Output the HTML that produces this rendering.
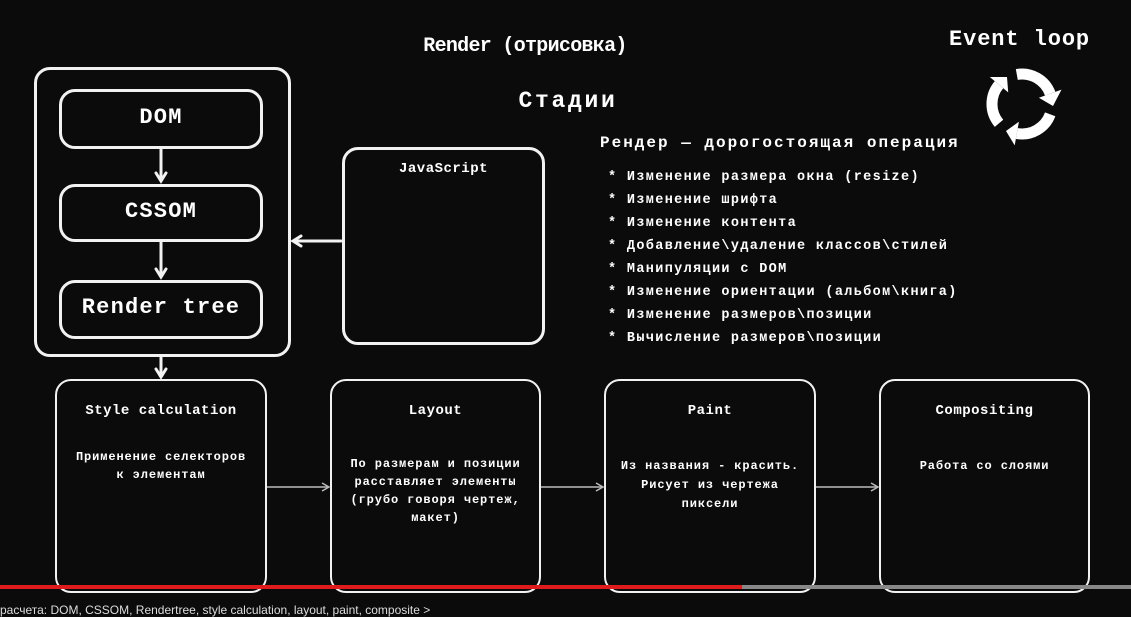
<!DOCTYPE html>
<html><head><meta charset="utf-8"><style>
body{margin:0;width:1131px;height:612px;background:#0b0b0b;overflow:hidden;position:relative;font-family:"Liberation Mono","DejaVu Sans Mono",monospace;color:#fff}
.b{position:absolute;border:2px solid #f2f2f2;border-radius:16px;box-sizing:border-box}
.t{position:absolute;white-space:nowrap;font-weight:bold}
.s{font-size:12px;letter-spacing:0.9px;line-height:18px;text-align:center}
.h{font-size:14px;letter-spacing:0.5px;text-align:center}
</style></head><body>
<div class="b" style="left:34px;top:67px;width:257px;height:290px;border-width:3px"></div>
<div class="b" style="left:59px;top:89px;width:204px;height:60px;border-width:3px"></div>
<div class="b" style="left:59px;top:184px;width:204px;height:58px;border-width:3px"></div>
<div class="b" style="left:59px;top:280px;width:204px;height:59px;border-width:3px"></div>
<div class="t" style="left:59px;width:204px;top:105px;font-size:22px;letter-spacing:1.2px;text-align:center">DOM</div>
<div class="t" style="left:59px;width:204px;top:199px;font-size:22px;letter-spacing:1.2px;text-align:center">CSSOM</div>
<div class="t" style="left:59px;width:204px;top:295px;font-size:22px;letter-spacing:1.2px;text-align:center">Render tree</div>
<div class="b" style="left:342px;top:147px;width:203px;height:198px;border-width:3px"></div>
<div class="t h" style="left:342px;width:203px;top:161px">JavaScript</div>
<div class="t" style="left:380px;width:290px;top:35px;font-size:20px;letter-spacing:-0.7px;text-align:center">Render (отрисовка)</div>
<div class="t" style="left:468px;width:200px;top:88px;font-size:23px;letter-spacing:2.7px;text-align:center">Стадии</div>
<div class="t" style="left:949px;top:27px;font-size:22px;letter-spacing:0.9px">Event loop</div>
<div class="t" style="left:600px;top:134px;font-size:16px;letter-spacing:2px">Рендер — дорогостоящая операция</div>
<div class="t" style="left:608px;top:166px;font-size:13.5px;letter-spacing:1.35px;line-height:23px">* Изменение размера окна (resize)<br>* Изменение шрифта<br>* Изменение контента<br>* Добавление\удаление классов\стилей<br>* Манипуляции с DOM<br>* Изменение ориентации (альбом\книга)<br>* Изменение размеров\позиции<br>* Вычисление размеров\позиции</div>
<div class="b" style="left:55px;top:379px;width:212px;height:214px"></div>
<div class="b" style="left:330px;top:379px;width:211px;height:214px"></div>
<div class="b" style="left:604px;top:379px;width:212px;height:214px"></div>
<div class="b" style="left:879px;top:379px;width:211px;height:214px"></div>
<div class="t h" style="left:55px;width:212px;top:403px">Style calculation</div>
<div class="t s" style="left:55px;width:212px;top:448px">Применение селекторов<br>к элементам</div>
<div class="t h" style="left:330px;width:211px;top:403px">Layout</div>
<div class="t s" style="left:330px;width:211px;top:455px">По размерам и позиции<br>расставляет элементы<br>(грубо говоря чертеж,<br>макет)</div>
<div class="t h" style="left:604px;width:212px;top:403px">Paint</div>
<div class="t s" style="left:604px;width:212px;top:457px;line-height:19px">Из названия - красить.<br>Рисует из чертежа<br>пиксели</div>
<div class="t h" style="left:879px;width:211px;top:403px">Compositing</div>
<div class="t s" style="left:879px;width:211px;top:457px">Работа со слоями</div>
<svg style="position:absolute;left:0;top:0" width="1131" height="612">
<g stroke="#f2f2f2" stroke-width="3" fill="none" stroke-linecap="round">
<line x1="161" y1="149" x2="161" y2="180"/><polyline points="156,173 161,181 166,173"/>
<line x1="161" y1="242" x2="161" y2="276"/><polyline points="156,269 161,277 166,269"/>
<line x1="161" y1="357" x2="161" y2="376"/><polyline points="156,369 161,377 166,369"/>
<line x1="341" y1="241" x2="294" y2="241"/><polyline points="301,236 293,241 301,246"/>
</g>
<g stroke="#bbb" stroke-width="1.5" fill="none">
<line x1="267" y1="487" x2="328" y2="487"/><polyline points="322,483 329,487 322,491"/>
<line x1="541" y1="487" x2="602" y2="487"/><polyline points="596,483 603,487 596,491"/>
<line x1="816" y1="487" x2="877" y2="487"/><polyline points="871,483 878,487 871,491"/>
</g>
<g transform="translate(1022,104)">
<g fill="none" stroke="#fff" stroke-width="11">
<path d="M-5.2,-29.5 A30,30 0 0 1 28.2,-10.3"/>
<path d="M28.2,10.3 A30,30 0 0 1 -5.2,29.5"/>
<path d="M-23,19.3 A30,30 0 0 1 -23,-19.3"/>
</g>
<g fill="#fff">
<polygon points="16.9,-6.2 39.5,-14.4 31,2"/>
<polygon points="-3.1,17.7 -7.3,41.4 -16,27"/>
<polygon points="-13.8,-11.6 -32.2,-27 -15,-27"/>
</g>
</g>
<rect x="0" y="585" width="742" height="4" fill="#e01b1b"/>
<rect x="742" y="585" width="389" height="4" fill="#888"/>
</svg>
<div style="position:absolute;left:0;top:603px;font-family:'Liberation Sans',sans-serif;font-size:12px;color:#ddd;white-space:nowrap">расчета: DOM, CSSOM, Rendertree, style calculation, layout, paint, composite &gt;</div>
</body></html>
